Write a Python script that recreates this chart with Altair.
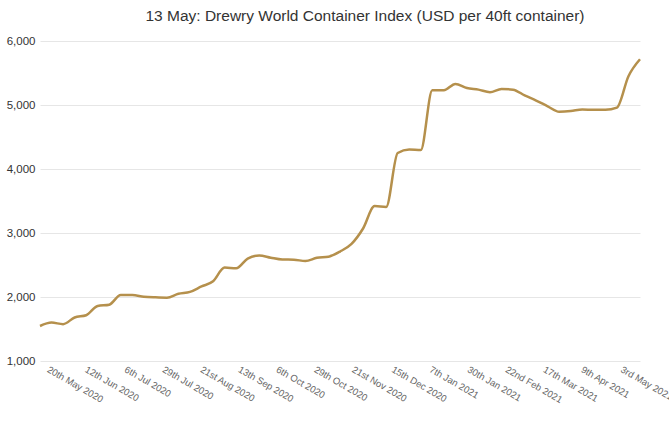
import altair as alt
import pandas as pd
from datetime import datetime, timezone

# Weekly Drewry WCI composite (USD per 40ft), Thursdays from 14 May 2020
start_date = "2020-05-14"
wci_values = [
    1547, 1600, 1575, 1680, 1715, 1860, 1880, 2030, 2030, 2005,
    1995, 1990, 2050, 2080, 2165, 2245, 2460, 2448, 2600, 2650,
    2614, 2585, 2583, 2562, 2612, 2630, 2710, 2830, 3070, 3420,
    3405, 4250, 4305, 4295, 5230, 5230, 5330, 5265, 5240, 5200,
    5250, 5240, 5150, 5070, 4980, 4895, 4905, 4930, 4925, 4925,
    4960, 5450, 5715,
]
tick_dates = [
    "2020-05-20", "2020-06-12", "2020-07-06", "2020-07-29", "2020-08-21",
    "2020-09-13", "2020-10-06", "2020-10-29", "2020-11-21", "2020-12-15",
    "2021-01-07", "2021-01-30", "2021-02-22", "2021-03-17", "2021-04-09",
    "2021-05-03",
]
tick_labels = [
    "20th May 2020", "12th Jun 2020", "6th Jul 2020", "29th Jul 2020",
    "21st Aug 2020", "13th Sep 2020", "6th Oct 2020", "29th Oct 2020",
    "21st Nov 2020", "15th Dec 2020", "7th Jan 2021", "30th Jan 2021",
    "22nd Feb 2021", "17th Mar 2021", "9th Apr 2021", "3rd May 2021",
]
y_ticks = [1000, 2000, 3000, 4000, 5000, 6000]

dates = pd.date_range(start_date, periods=len(wci_values), freq="7D")
df = pd.DataFrame({"date": dates.strftime("%Y-%m-%d"), "value": wci_values})


def ms(s):
    d = datetime.strptime(s, "%Y-%m-%d").replace(tzinfo=timezone.utc)
    return int(d.timestamp() * 1000)


tick_ms = [ms(s) for s in tick_dates]
label_expr = "''"
for t, lab in reversed(list(zip(tick_ms, tick_labels))):
    label_expr = f"(abs(datum.value - {t}) < 43200000 ? '{lab}' : {label_expr})"

domain = [ms(df["date"].iloc[0]), ms(df["date"].iloc[-1])]

chart = (
    alt.Chart(df)
    .mark_line(color="#B5904C", strokeWidth=2.5, interpolate="monotone")
    .encode(
        x=alt.X(
            "date:T",
            scale=alt.Scale(type="utc", domain=domain),
            axis=alt.Axis(
                values=tick_ms,
                labelExpr=label_expr,
                labelAngle=30,
                labelAlign="left",
                labelBaseline="top",
                labelFontSize=9.5,
                labelColor="#666666",
                labelFont="Liberation Sans",
                labelPadding=3,
                labelOverlap=False,
                labelBound=False,
                labelFlush=False,
                ticks=False,
                domain=False,
                grid=False,
                title=None,
            ),
        ),
        y=alt.Y(
            "value:Q",
            scale=alt.Scale(domain=[1000, 6000], nice=False, zero=False),
            axis=alt.Axis(
                values=y_ticks,
                format=",.0f",
                labelFontSize=11.5,
                labelColor="#333333",
                labelFont="Liberation Sans",
                labelPadding=5,
                ticks=False,
                domain=False,
                gridColor="#e6e6e6",
                gridWidth=1,
                title="USD",
                titleAngle=-90,
                titleX=-43,
                titleY=160,
                titleAlign="center",
                titleBaseline="alphabetic",
                titleFontSize=12,
                titleFontWeight="normal",
                titleColor="#555555",
                titleFont="Liberation Sans",
            ),
        ),
    )
    .properties(
        width=600,
        height=320,
        autosize=alt.AutoSizeParams(type="none"),
        padding={"left": 40, "top": 41, "right": 29, "bottom": 64},
        title=alt.TitleParams(
            "13 May: Drewry World Container Index (USD per 40ft container)",
            font="Liberation Sans",
            fontSize=15.5,
            fontWeight="normal",
            color="#333333",
            anchor="middle",
            dx=25,
            offset=11,
        ),
    )
    .configure_view(stroke=None)
)

chart.save("out.html", embed_options={"renderer": "svg", "actions": False})
